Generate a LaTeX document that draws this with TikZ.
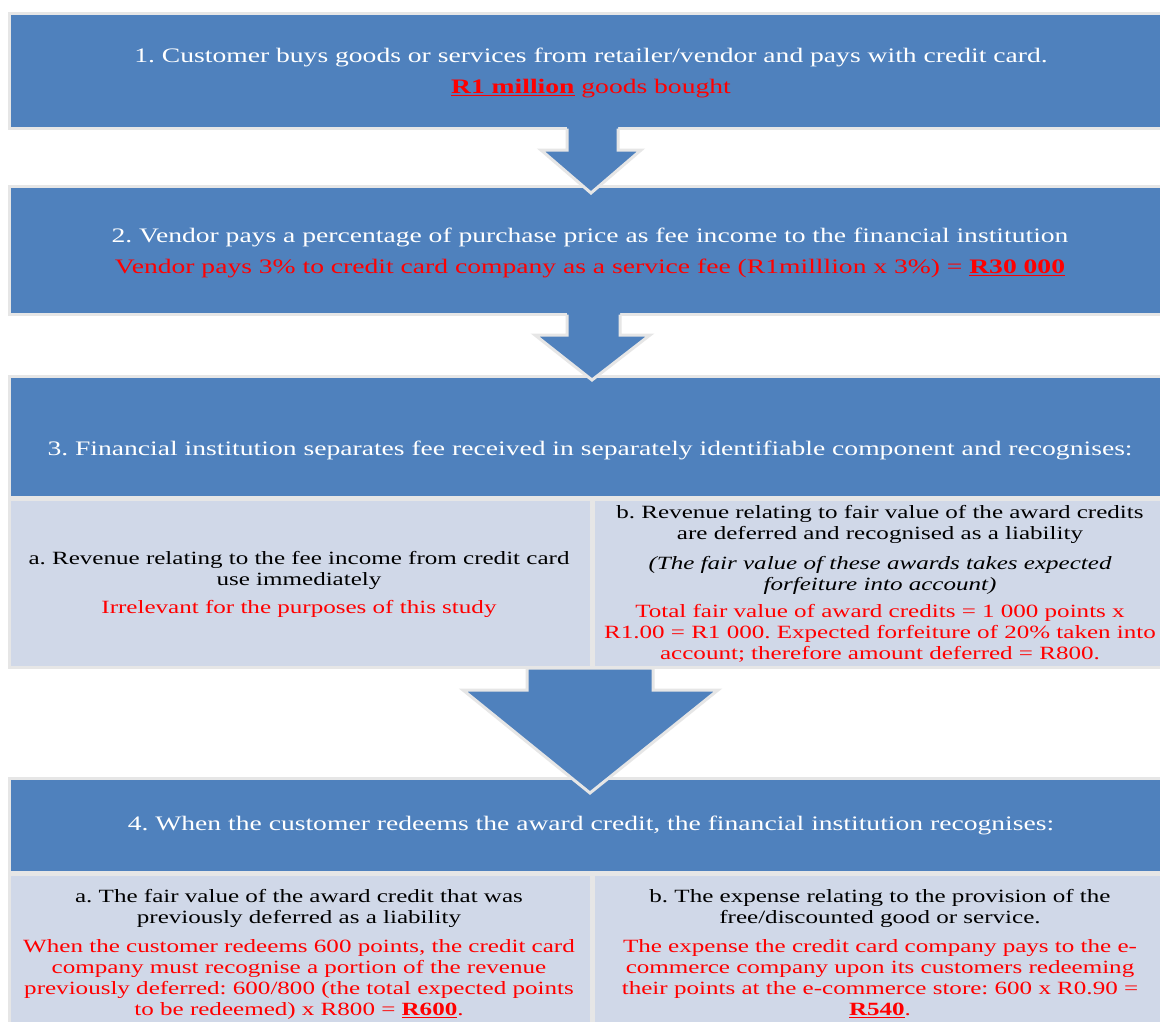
\documentclass[tikz,border=0pt]{standalone}
\usepackage{fontspec}
\setmainfont[FakeStretch=1.34]{Liberation Serif}
\definecolor{boxblue}{HTML}{4F81BD}
\definecolor{cellblue}{HTML}{D0D8E8}
\definecolor{edgegray}{HTML}{E6E6E6}
\definecolor{txtred}{HTML}{FF0000}
\newcommand\myul[1]{\leavevmode{\setbox0\hbox{#1}\rlap{\rule[-3.4pt]{\wd0}{1.8pt}}\box0}}
\tikzset{
  bluebox/.style={fill=boxblue, draw=edgegray, line width=2.5pt, rectangle, inner sep=0pt, anchor=north west},
  cellbox/.style={fill=cellblue, draw=edgegray, line width=2.5pt, rectangle, inner sep=0pt, anchor=north west},
  arrowfill/.style={fill=boxblue},
  arrowedge/.style={draw=edgegray, line width=3pt, line join=miter},
  txt/.style={font=\fontsize{18.7}{21}\selectfont\frenchspacing, text width=1150pt, align=center, inner sep=0pt, anchor=base},
  big/.style={font=\fontsize{20.6}{23}\selectfont\frenchspacing},
  ttl/.style={txt, big, text=white},
  ttlred/.style={txt, big, text=txtred},
  blk/.style={txt, text=black},
  red/.style={txt, text=txtred}
}
\begin{document}
\begin{tikzpicture}[x=1pt,y=-1pt]
\useasboundingbox (0,0) rectangle (1160,1021);
\fill[white] (0,0) rectangle (1160,1021);
\clip (0,0) rectangle (1160,1021);
% boxes
\node[bluebox, minimum width=1170pt, minimum height=115pt] (b1) at (8,12) {};
\node[bluebox, minimum width=1170pt, minimum height=128pt] (b2) at (8,185) {};
\node[bluebox, minimum width=1170pt, minimum height=121pt] (b3) at (8,375) {};
\node[cellbox, minimum width=582pt, minimum height=168pt] (b3a) at (8,498) {};
\node[cellbox, minimum width=580pt, minimum height=168pt] (b3b) at (592,498) {};
\node[bluebox, minimum width=1170pt, minimum height=94pt] (b4) at (8,777) {};
\node[cellbox, minimum width=582pt, minimum height=160pt] (b4a) at (8,873) {};
\node[cellbox, minimum width=580pt, minimum height=160pt] (b4b) at (592,873) {};
% block arrows
\fill[arrowfill] (567,125) -- (567,150) -- (541,150) -- (591,193) -- (641,150) -- (618,150) -- (618,125) -- cycle;
\draw[arrowedge] (567,128.5) -- (567,150) -- (541,150) -- (591,193) -- (641,150) -- (618,150) -- (618,128.5);
\fill[arrowfill] (567,311) -- (567,335) -- (535,335) -- (592,380) -- (650,335) -- (620,335) -- (620,311) -- cycle;
\draw[arrowedge] (567,314.5) -- (567,335) -- (535,335) -- (592,380) -- (650,335) -- (620,335) -- (620,314.5);
\fill[arrowfill] (527,668) -- (527,690) -- (463,690) -- (590,793) -- (718,690) -- (653,690) -- (653,668) -- cycle;
\draw[arrowedge] (527,668) -- (527,690) -- (463,690) -- (590,793) -- (718,690) -- (653,690) -- (653,668) -- cycle;
% texts
\node[ttl] (t1) at (591,62) {1. Customer buys goods or services from retailer/vendor and pays with credit card.};
\node[ttlred] (r1) at (591,93) {\myul{\textbf{R1 million}} goods bought};
\node[ttl] (t2) at (590,242.5) {2. Vendor pays a percentage of purchase price as fee income to the financial institution};
\node[ttlred] (r2) at (590,273) {Vendor pays 3\% to credit card company as a service fee (R1milllion x 3\%) = \myul{\textbf{R30 000}}};
\node[ttl] (t3) at (590,455) {3. Financial institution separates fee received in separately identifiable component and recognises:};
\node[blk] (t3a) at (299,564) {a. Revenue relating to the fee income from credit card\\ use immediately};
\node[red] (r3a) at (299,613) {Irrelevant for the purposes of this study};
\node[blk] (t3b) at (880,518) {b. Revenue relating to fair value of the award credits\\ are deferred and recognised as a liability};
\node[blk] (i3b) at (880,569) {\itshape (The fair value of these awards takes expected\\ forfeiture into account)};
\node[red] (r3b) at (880,617) {Total fair value of award credits = 1 000 points x\\ R1.00 = R1 000. Expected forfeiture of 20\% taken into\\ account; therefore amount deferred = R800.};
\node[ttl] (t4) at (591,830) {4. When the customer redeems the award credit, the financial institution recognises:};
\node[blk] (t4a) at (299,902) {a. The fair value of the award credit that was\\ previously deferred as a liability};
\node[red] (r4a) at (299,952) {When the customer redeems 600 points, the credit card\\ company must recognise a portion of the revenue\\ previously deferred: 600/800 (the total expected points\\ to be redeemed) x R800 = \myul{\textbf{R600}}.};
\node[blk] (t4b) at (880,902) {b. The expense relating to the provision of the\\ free/discounted good or service.};
\node[red] (r4b) at (880,952) {The expense the credit card company pays to the e-\\ commerce company upon its customers redeeming\\ their points at the e-commerce store: 600 x R0.90 =\\ \myul{\textbf{R540}}.};
\end{tikzpicture}
\end{document}
